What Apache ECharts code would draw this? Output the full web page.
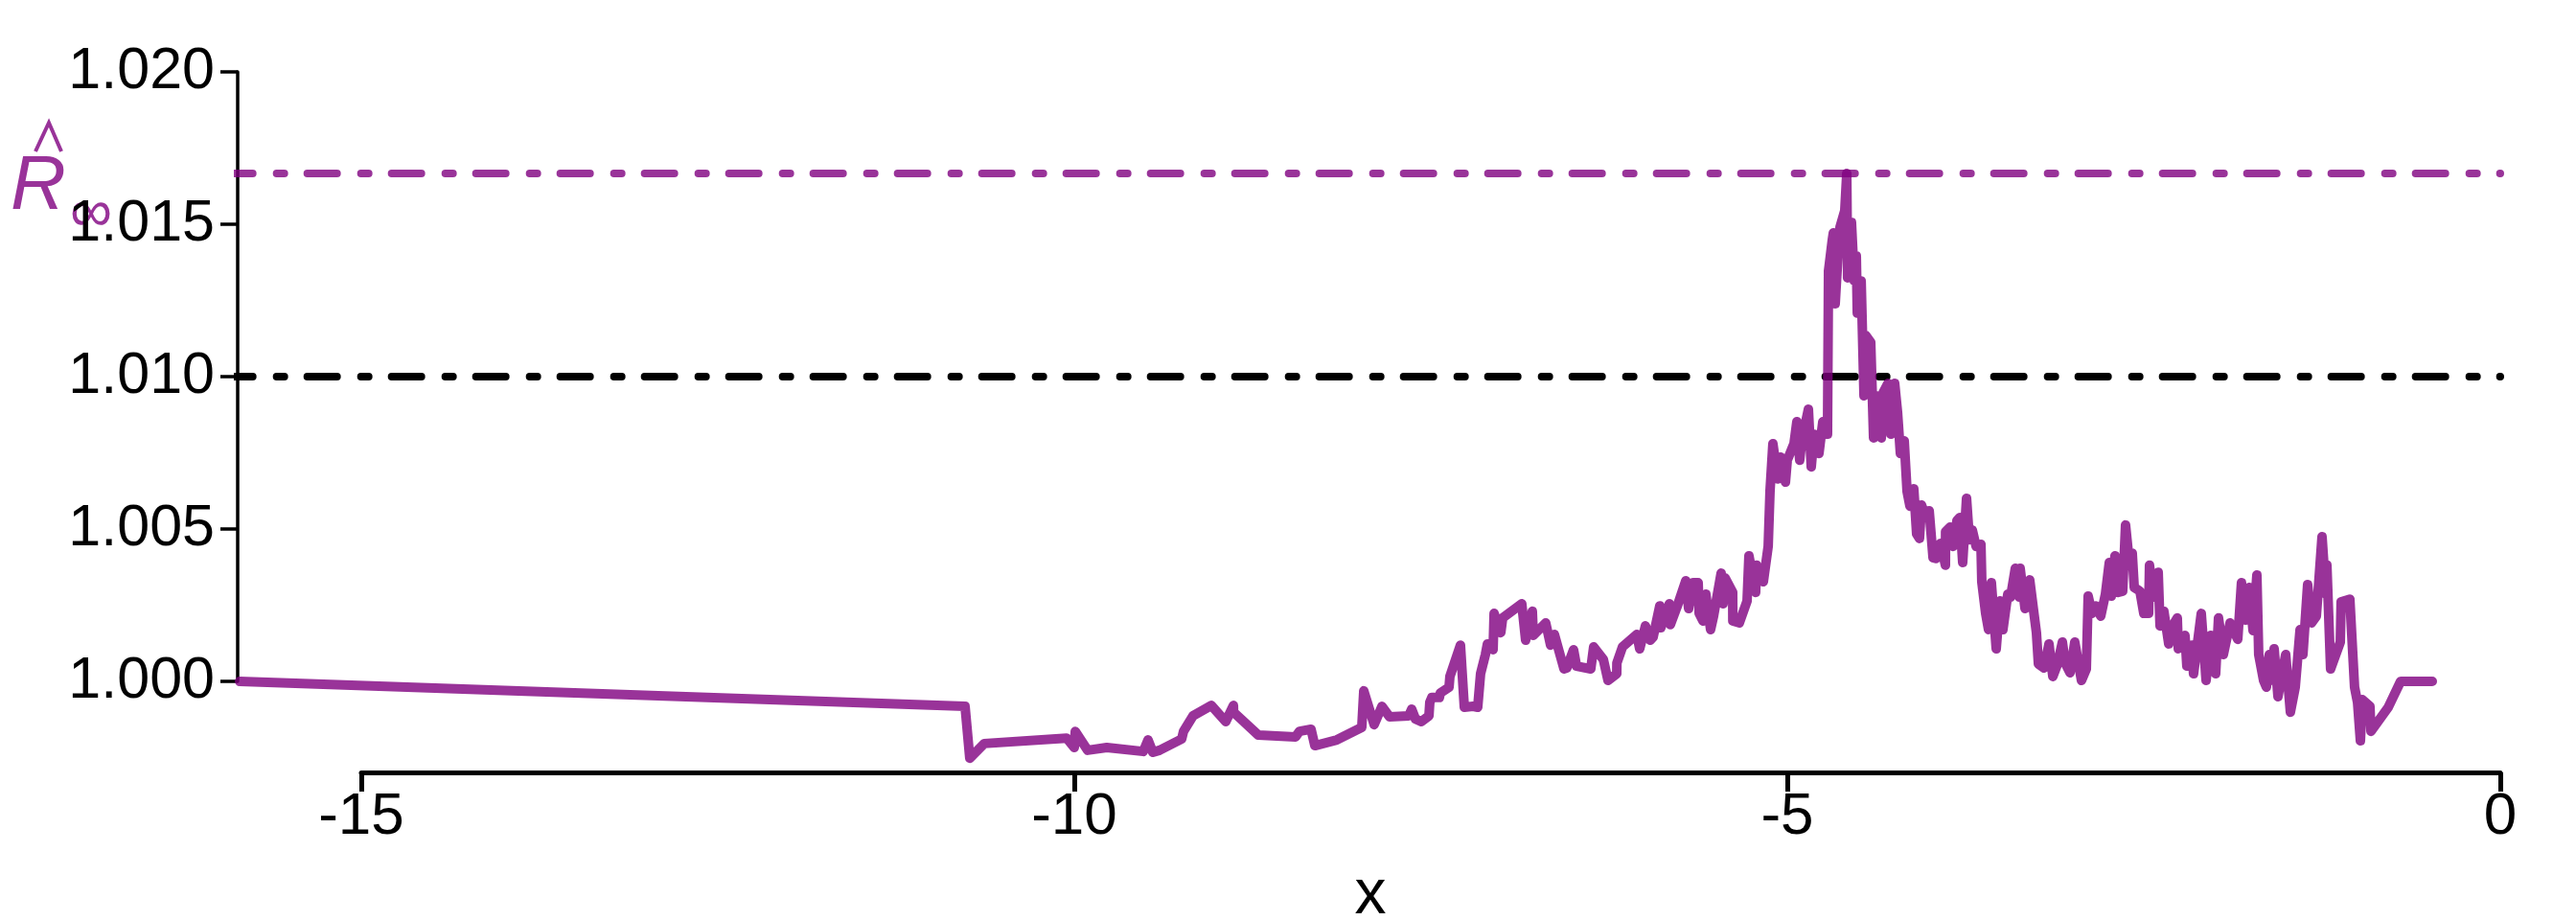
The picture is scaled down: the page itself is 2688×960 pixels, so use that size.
<!DOCTYPE html>
<html>
<head>
<meta charset="utf-8">
<script src="https://cdn.jsdelivr.net/npm/echarts@6/dist/echarts.min.js"></script>
<style>
html, body { margin: 0; background: #fff; }
#main { width: 2688px; height: 960px; }
</style>
</head>
<body>
<div id="main"></div>
<script>
// x positions of the trace
var xVals = [-15.853, -10.766, -10.733, -10.632, -10.054, -10.000, -9.993, -9.906, -9.772, -9.516,
  -9.483, -9.449, -9.402, -9.247, -9.234, -9.167, -9.039, -8.938, -8.884, -8.883,
  -8.710, -8.448, -8.421, -8.340, -8.313, -8.159, -7.984, -7.970, -7.897, -7.843,
  -7.789, -7.655, -7.634, -7.608, -7.567, -7.513, -7.507, -7.493, -7.440, -7.433,
  -7.372, -7.366, -7.292, -7.265, -7.204, -7.171, -7.151, -7.117, -7.103, -7.063,
  -7.056, -7.009, -6.996, -6.862, -6.835, -6.788, -6.781, -6.694, -6.660, -6.633,
  -6.566, -6.546, -6.499, -6.478, -6.378, -6.358, -6.290, -6.257, -6.196, -6.195,
  -6.156, -6.055, -6.035, -5.995, -5.961, -5.941, -5.894, -5.887, -5.827, -5.820,
  -5.773, -5.712, -5.692, -5.659, -5.625, -5.618, -5.591, -5.571, -5.538, -5.517,
  -5.464, -5.450, -5.437, -5.383, -5.382, -5.336, -5.282, -5.269, -5.222, -5.215,
  -5.168, -5.134, -5.121, -5.101, -5.067, -5.047, -5.013, -5.000, -4.953, -4.933,
  -4.913, -4.899, -4.852, -4.832, -4.812, -4.778, -4.751, -4.718, -4.711, -4.684,
  -4.677, -4.664, -4.644, -4.630, -4.597, -4.583, -4.577, -4.550, -4.530, -4.516,
  -4.509, -4.482, -4.462, -4.449, -4.415, -4.395, -4.375, -4.341, -4.328, -4.294,
  -4.274, -4.247, -4.227, -4.207, -4.180, -4.160, -4.140, -4.113, -4.093, -4.073,
  -4.059, -4.039, -4.005, -3.978, -3.958, -3.925, -3.891, -3.890, -3.858, -3.837,
  -3.810, -3.790, -3.770, -3.743, -3.723, -3.703, -3.676, -3.642, -3.636, -3.609,
  -3.589, -3.569, -3.535, -3.508, -3.488, -3.454, -3.434, -3.401, -3.374, -3.367,
  -3.333, -3.300, -3.273, -3.253, -3.239, -3.199, -3.165, -3.138, -3.105, -3.071,
  -3.051, -3.017, -2.984, -2.937, -2.903, -2.890, -2.863, -2.836, -2.802, -2.769,
  -2.742, -2.728, -2.702, -2.681, -2.648, -2.628, -2.608, -2.581, -2.567, -2.527,
  -2.500, -2.466, -2.460, -2.433, -2.399, -2.386, -2.359, -2.325, -2.298, -2.265,
  -2.258, -2.211, -2.198, -2.164, -2.151, -2.097, -2.063, -2.030, -1.996, -1.976,
  -1.942, -1.895, -1.841, -1.815, -1.788, -1.761, -1.734, -1.707, -1.694, -1.660,
  -1.640, -1.620, -1.593, -1.586, -1.559, -1.505, -1.472, -1.438, -1.404, -1.384,
  -1.351, -1.324, -1.290, -1.250, -1.223, -1.216, -1.190, -1.122, -1.116, -1.055,
  -1.022, -1.001, -0.981, -0.968, -0.914, -0.907, -0.786, -0.699, -0.477];

// R-hat values of the trace
var rVals = [1.00000, 0.99918, 0.99748, 0.99796, 0.99814, 0.99783, 0.99836, 0.99774, 0.99783, 0.99770,
  0.99808, 0.99767, 0.99774, 0.99811, 0.99836, 0.99887, 0.99921, 0.99868, 0.99921, 0.99899,
  0.99824, 0.99818, 0.99836, 0.99843, 0.99789, 0.99808, 0.99849, 0.99969, 0.99858, 0.99918,
  0.99884, 0.99887, 0.99909, 0.99877, 0.99868, 0.99887, 0.99931, 0.99947, 0.99947, 0.99962,
  0.99981, 1.00016, 1.00119, 0.99915, 0.99918, 0.99915, 1.00025, 1.00088, 1.00123, 1.00104,
  1.00223, 1.00160, 1.00208, 1.00255, 1.00135, 1.00230, 1.00151, 1.00192, 1.00119, 1.00154,
  1.00041, 1.00044, 1.00104, 1.00050, 1.00041, 1.00113, 1.00072, 1.00003, 1.00025, 1.00060,
  1.00113, 1.00154, 1.00107, 1.00182, 1.00135, 1.00145, 1.00248, 1.00176, 1.00255, 1.00186,
  1.00245, 1.00330, 1.00239, 1.00324, 1.00324, 1.00223, 1.00198, 1.00286, 1.00170, 1.00214,
  1.00355, 1.00255, 1.00340, 1.00292, 1.00198, 1.00192, 1.00264, 1.00412, 1.00292, 1.00381,
  1.00327, 1.00443, 1.00626, 1.00780, 1.00664, 1.00736, 1.00654, 1.00726, 1.00780, 1.00852,
  1.00726, 1.00789, 1.00893, 1.00704, 1.00811, 1.00748, 1.00852, 1.00811, 1.01346, 1.01450,
  1.01472, 1.01239, 1.01403, 1.01491, 1.01544, 1.01667, 1.01324, 1.01506, 1.01314, 1.01396,
  1.01208, 1.01314, 1.00937, 1.01135, 1.01113, 1.00799, 1.00937, 1.00799, 1.00947, 1.00978,
  1.00811, 1.00978, 1.00884, 1.00748, 1.00789, 1.00623, 1.00575, 1.00632, 1.00484, 1.00469,
  1.00579, 1.00553, 1.00560, 1.00406, 1.00403, 1.00453, 1.00381, 1.00491, 1.00506, 1.00443,
  1.00528, 1.00538, 1.00390, 1.00601, 1.00465, 1.00497, 1.00443, 1.00450, 1.00327, 1.00223,
  1.00170, 1.00324, 1.00107, 1.00264, 1.00170, 1.00286, 1.00277, 1.00371, 1.00277, 1.00371,
  1.00239, 1.00333, 1.00233, 1.00160, 1.00057, 1.00044, 1.00123, 1.00016, 1.00057, 1.00129,
  1.00060, 1.00028, 1.00129, 1.00003, 1.00041, 1.00280, 1.00223, 1.00248, 1.00214, 1.00286,
  1.00390, 1.00280, 1.00412, 1.00292, 1.00296, 1.00513, 1.00421, 1.00421, 1.00308, 1.00296,
  1.00223, 1.00223, 1.00381, 1.00277, 1.00358, 1.00182, 1.00230, 1.00123, 1.00182, 1.00208,
  1.00107, 1.00151, 1.00050, 1.00119, 1.00025, 1.00223, 1.00003, 1.00151, 1.00025, 1.00208,
  1.00088, 1.00192, 1.00138, 1.00324, 1.00201, 1.00308, 1.00167, 1.00349, 1.00088, 1.00003,
  0.99981, 1.00088, 1.00003, 1.00107, 0.99950, 1.00088, 0.99899, 0.99981, 1.00170, 1.00088,
  1.00318, 1.00192, 1.00214, 1.00475, 1.00286, 1.00381, 1.00041, 1.00129, 1.00261, 1.00270,
  0.99981, 0.99931, 0.99805, 0.99940, 0.99918, 0.99836, 0.99915, 1.00000, 1.00000];

// reference levels
var rHatMax = 1.01667;
var rThreshold = 1.010;

// axis ticks
var xTickMin = -15, xTickMax = 0, xTickStep = 5;
var yTickMin = 1.000, yTickMax = 1.020, yTickStep = 0.005;

var purple = 'rgba(128,0,128,0.8)';
var textPurple = '#993399';
var font = 'Liberation Sans';

var myChart = echarts.init(document.getElementById('main'));

var trace = xVals.map(function (x, i) { return [x, rVals[i]]; });
var hlineLeft = -15.97, hlineRight = 0;
var dashDot = [31, 25, 8, 24];

var option = {
    animation: false,
    backgroundColor: '#fff',
    grid: [
        { left: 248, top: 75, width: 2361, height: 731 },   // plotting area
        { left: 248, top: 75, width: 2361, height: 636 },   // y axis only
        { left: 377, top: 796, width: 2232, height: 10 }    // x axis only
    ],
    xAxis: [
        { gridIndex: 0, type: 'value', min: -15.867, max: 0, show: false },
        { gridIndex: 1, type: 'value', min: 0, max: 1, show: false },
        {
            gridIndex: 2, type: 'value', min: xTickMin, max: xTickMax, interval: xTickStep,
            axisLine: { show: true, onZero: false, lineStyle: { color: '#000', width: 5 } },
            axisTick: { show: true, length: 20, lineStyle: { color: '#000', width: 5 } },
            axisLabel: { color: '#000', fontSize: 62, fontFamily: font, margin: 16 },
            splitLine: { show: false }
        }
    ],
    yAxis: [
        { gridIndex: 0, type: 'value', min: 0.997013, max: 1.02, show: false },
        {
            gridIndex: 1, type: 'value', min: yTickMin, max: yTickMax, interval: yTickStep,
            axisLine: { show: true, onZero: false, lineStyle: { color: '#000', width: 3.5 } },
            axisTick: { show: true, length: 18, lineStyle: { color: '#000', width: 3.5 } },
            axisLabel: {
                color: '#000', fontSize: 61, fontFamily: font, margin: 24,
                formatter: function (v) { return v.toFixed(3); }
            },
            splitLine: { show: false }
        },
        { gridIndex: 2, type: 'value', min: 0, max: 1, show: false }
    ],
    series: [
        {
            type: 'line', xAxisIndex: 0, yAxisIndex: 0, clip: false, showSymbol: false, silent: true,
            data: [[hlineLeft, rThreshold], [hlineRight, rThreshold]],
            lineStyle: { color: '#000', width: 8, type: dashDot, cap: 'round' }
        },
        {
            type: 'line', xAxisIndex: 0, yAxisIndex: 0, clip: false, showSymbol: false, silent: true,
            data: [[hlineLeft, rHatMax], [hlineRight, rHatMax]],
            lineStyle: { color: purple, width: 8, type: dashDot, cap: 'round' }
        },
        {
            type: 'line', xAxisIndex: 0, yAxisIndex: 0, clip: false, showSymbol: false, silent: true,
            data: trace,
            lineStyle: { color: purple, width: 10, cap: 'round', join: 'round' }
        }
    ],
    graphic: [
        {
            type: 'text',
            style: { text: 'x', x: 1430, y: 935, textAlign: 'center', textVerticalAlign: 'middle',
                     font: '66px "Liberation Sans"', fill: '#000' }
        },
        {
            type: 'text',
            style: { text: 'R', x: 40, y: 196, textAlign: 'center', textVerticalAlign: 'middle',
                     font: 'italic 80px "Liberation Sans"', fill: textPurple }
        },
        {
            type: 'polyline',
            shape: { points: [[37, 158], [51, 128], [64, 158]] },
            style: { stroke: textPurple, lineWidth: 4, fill: null }
        },
        {
            type: 'text',
            style: { text: '\u221e', x: 95, y: 224, textAlign: 'center', textVerticalAlign: 'middle',
                     font: '62px "Liberation Sans"', fill: textPurple }
        }
    ]
};

myChart.setOption(option);
</script>
</body>
</html>
